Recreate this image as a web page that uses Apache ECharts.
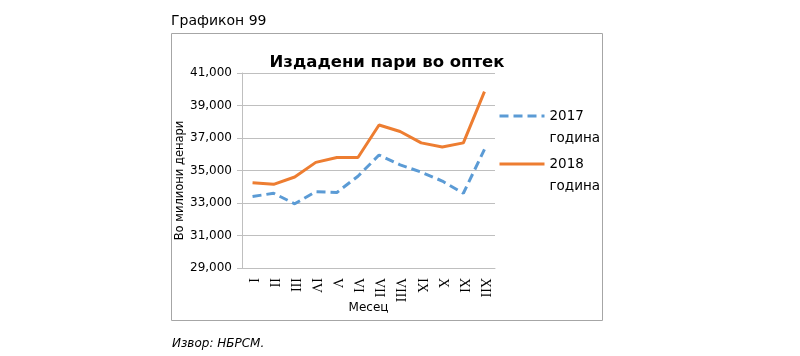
<!DOCTYPE html>
<html>
<head>
<meta charset="utf-8">
<script src="https://cdn.jsdelivr.net/npm/echarts@6/dist/echarts.min.js"></script>
<style>html,body{margin:0;padding:0;background:#fff;}#c{width:800px;height:356px;}</style>
</head>
<body>
<div id="c"></div>
<script>
const months = ['I','II','III','IV','V','VI','VII','VIII','IX','X','XI','XII'];
const s2017 = [33400, 33600, 32950, 33700, 33650, 34650, 35950, 35350, 34900, 34350, 33600, 36300];
const s2018 = [34250, 34150, 34600, 35500, 35800, 35800, 37800, 37400, 36700, 36450, 36700, 39850];
const seriesNames = ['2017 година', '2018 година'];
const yTicks = {min: 29000, max: 41000, interval: 2000};

const chart = echarts.init(document.getElementById('c'), null, {renderer: 'canvas'});
const sans = 'DejaVu Sans';
const legendBase = {
  orient: 'vertical', left: 493,
  itemWidth: 45, itemHeight: 14,
  itemStyle: {opacity: 0},
  lineStyle: {width: 3},
  formatter: n => '\n' + n.replace(' ', '\n'),
  textStyle: {fontFamily: sans, fontSize: 13.5, color: '#000', lineHeight: 22}
};
chart.setOption({
  animation: false,
  backgroundColor: '#fff',
  title: {
    text: 'Издадени пари во оптек',
    left: 382, top: 49, textAlign: 'center',
    textStyle: {fontFamily: sans, fontWeight: 'bold', fontSize: 16.5, color: '#000'}
  },
  graphic: [
    {type: 'rect', shape: {x: 171.5, y: 33.5, width: 431, height: 287}, style: {fill: 'none', stroke: '#a6a6a6', lineWidth: 1}, z: -1},
    {type: 'text', left: 171, top: 14, style: {text: 'Графикон 99', font: '14px "DejaVu Sans"', fill: '#000'}},
    {type: 'text', left: 172, top: 338, style: {text: 'Извор: НБРСМ.', font: 'italic 12px "DejaVu Sans"', fill: '#000'}}
  ],
  legend: [
    Object.assign({}, legendBase, {top: 78, data: [seriesNames[0]]}),
    Object.assign({}, legendBase, {top: 126, data: [seriesNames[1]]})
  ],
  grid: {left: 242, right: 305, top: 73, bottom: 88},
  xAxis: {
    type: 'category', data: months, boundaryGap: true,
    name: 'Месец', nameLocation: 'middle', nameGap: 34, nameMoveOverlap: false,
    nameTextStyle: {fontFamily: sans, fontSize: 12, color: '#000'},
    axisLine: {lineStyle: {color: '#bfbfbf'}},
    axisTick: {show: false},
    axisLabel: {rotate: -90, fontFamily: 'Liberation Serif', fontSize: 14, color: '#000', margin: 10}
  },
  yAxis: {
    type: 'value', min: yTicks.min, max: yTicks.max, interval: yTicks.interval,
    name: 'Во милиони денари', nameLocation: 'middle', nameGap: 43,
    nameTextStyle: {fontFamily: sans, fontSize: 11.5, color: '#000', padding: [0, 20, 0, 0]},
    axisLine: {show: true, lineStyle: {color: '#bfbfbf'}},
    axisTick: {show: true, length: 5, lineStyle: {color: '#bfbfbf'}},
    splitLine: {lineStyle: {color: '#bfbfbf'}},
    axisLabel: {fontFamily: sans, fontSize: 12, color: '#000', margin: 10,
      formatter: v => v.toLocaleString('en-US')}
  },
  series: [
    {name: seriesNames[0], type: 'line', data: s2017, symbol: 'none',
      lineStyle: {color: '#5b9bd5', width: 3, type: [9, 5]}, itemStyle: {color: '#5b9bd5'}},
    {name: seriesNames[1], type: 'line', data: s2018, symbol: 'none',
      lineStyle: {color: '#ed7d31', width: 3}, itemStyle: {color: '#ed7d31'}}
  ]
});
</script>
</body>
</html>
